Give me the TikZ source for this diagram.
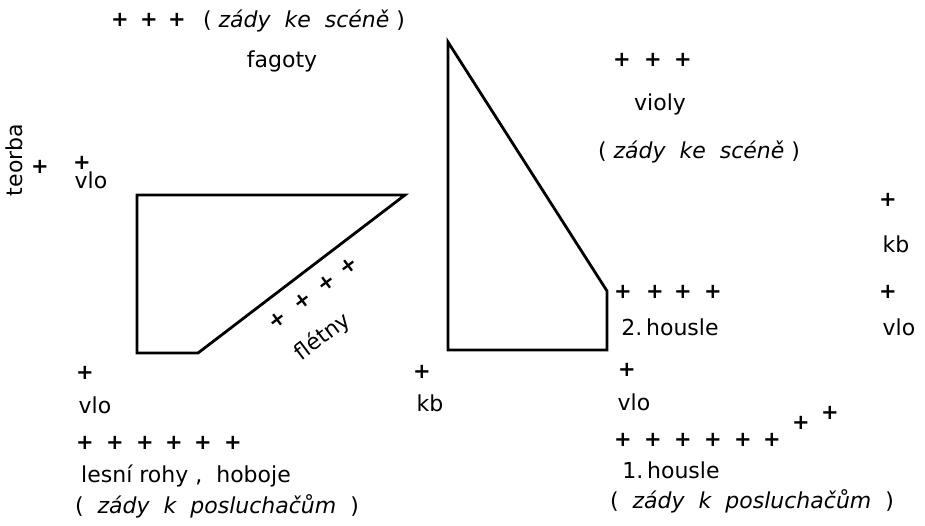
\documentclass[tikz,border=0pt]{standalone}
\usepackage{fontspec}
\setmainfont{DejaVu Sans}

\begin{document}
\begin{tikzpicture}[x=0.5pt,y=-0.5pt,
  txt/.style={font=\fontsize{11}{13}\selectfont, inner sep=0pt, anchor=base},
  seat/.style={font=\fontsize{10.5}{12}\selectfont\bfseries, inner sep=0pt},
  podium/.style={line width=1.4pt, line join=miter}]
  \useasboundingbox (0,0) rectangle (925,525);

  % Podia
  \draw[podium] (137,195) -- (405,195) -- (198,353) -- (137,353) -- cycle;
  \draw[podium] (448,42) -- (607,291) -- (607,350) -- (448,350) -- cycle;

  % Left side
  \foreach \x [count=\i] in {120,149,177}
    \node[seat] (fg\i) at (\x,20) {+};
  \node[txt] (fgback) at (304,27) {( \textit{zády\ \ ke\ \ scéně} )};
  \node[txt] (fagoty) at (282,67) {fagoty};

  \node[txt, rotate=90, anchor=center] (teorba) at (14,160) {teorba};
  \node[seat] (teo) at (40,167) {+};
  \node[seat] (vlo1) at (82,163) {+};
  \node[txt] (vlo1t) at (91,188) {vlo};

  \node[seat] (vlo2) at (85,373) {+};
  \node[txt] (vlo2t) at (95,413) {vlo};

  \foreach \x/\y [count=\i] in {278/320,303/301,327/283,349/266}
    \node[seat, rotate=37] (fl\i) at (\x,\y) {+};
  \node[txt, rotate=37, anchor=center] (fletny) at (323,337) {flétny};

  \foreach \x [count=\i] in {85,115,145,174,203,233}
    \node[seat] (hr\i) at (\x,443) {+};
  \node[txt] (horns) at (186,482) {lesní\ rohy ,\ \ hoboje};
  \node[txt] (hrback) at (217,513) {(\ \ \textit{zády\ \ k\ \ posluchačům}\ \ )};

  \node[seat] (kb1) at (422,372) {+};
  \node[txt] (kb1t) at (430,411) {kb};

  % Right side
  \foreach \x [count=\i] in {622,653,683}
    \node[seat] (va\i) at (\x,60) {+};
  \node[txt] (violy) at (660,110) {violy};
  \node[txt] (vaback) at (699,158) {( \textit{zády\ \ ke\ \ scéně} )};

  \node[seat] (kb2) at (888,200) {+};
  \node[txt] (kb2t) at (896,252) {kb};
  \node[seat] (vlo3) at (888,292) {+};
  \node[txt] (vlo3t) at (899,335) {vlo};

  \foreach \x [count=\i] in {623,655,683,713}
    \node[seat] (vn\i) at (\x,292) {+};
  \node[txt] (vn2) at (670,335) {2.\,housle};

  \node[seat] (vlo4) at (627,370) {+};
  \node[txt] (vlo4t) at (634,410) {vlo};

  \foreach \x/\y [count=\i] in {623/440,653/440,683/440,713/440,743/440,772/440,801/423,830/413}
    \node[seat] (vo\i) at (\x,\y) {+};
  \node[txt] (vn1) at (671,478) {1.\,housle};
  \node[txt] (voback) at (752,508) {(\ \ \textit{zády\ \ k\ \ posluchačům}\ \ )};
\end{tikzpicture}
\end{document}
